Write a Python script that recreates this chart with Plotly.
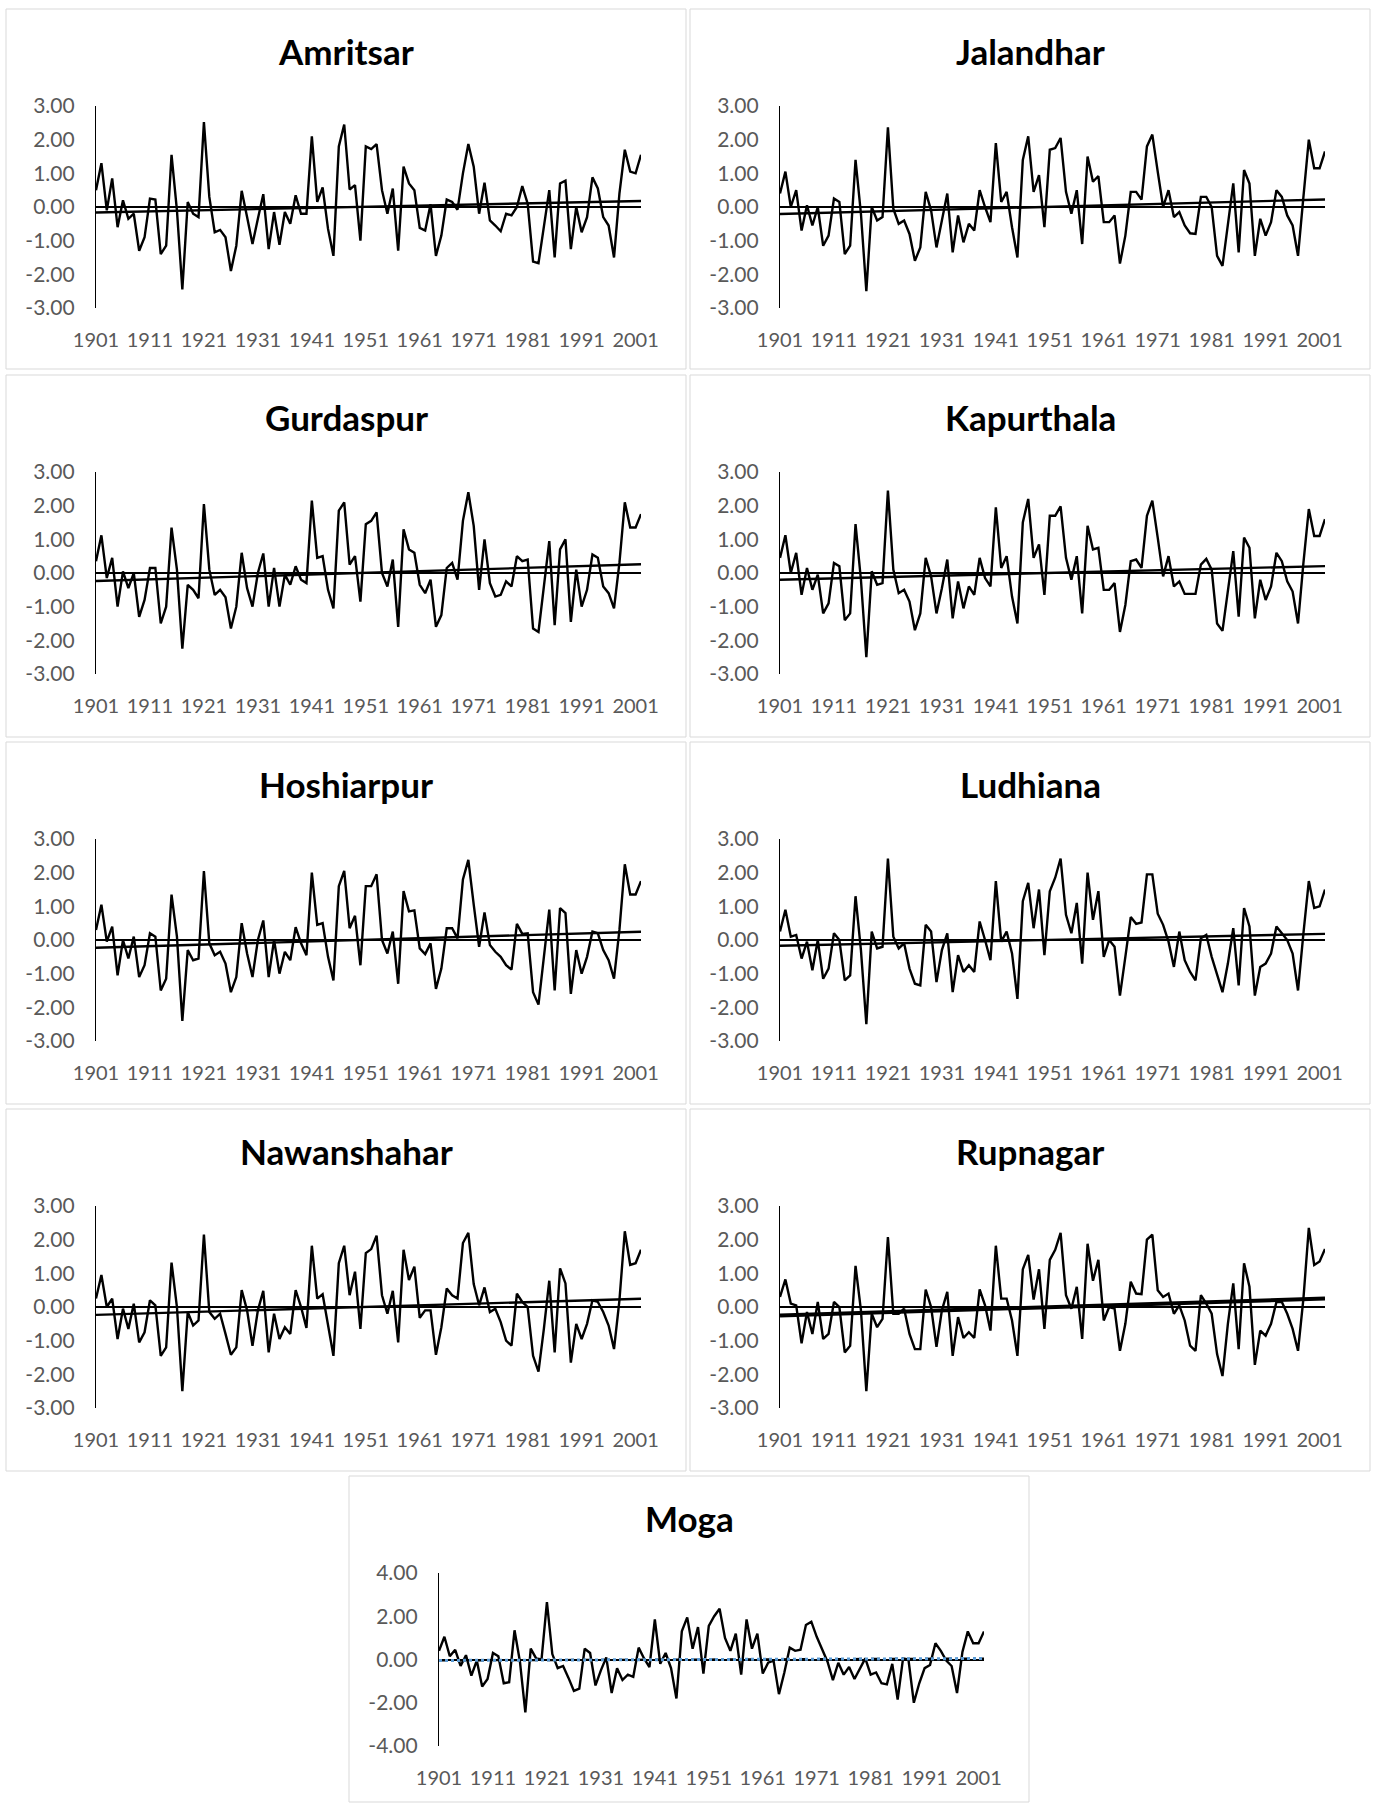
import numpy as np
import plotly.graph_objects as go

# ---- data -------------------------------------------------------------
years = list(range(1901, 2003))
year_ticks = [1901, 1911, 1921, 1931, 1941, 1951, 1961, 1971, 1981, 1991, 2001]
year_labels = ["1901", "1911", "1921", "1931", "1941", "1951", "1961", "1971", "1981", "1991", "2001"]

y_ticks_3 = [-3, -2, -1, 0, 1, 2, 3]
y_labels_3 = ["-3.00", "-2.00", "-1.00", "0.00", "1.00", "2.00", "3.00"]
y_ticks_4 = [-4, -2, 0, 2, 4]
y_labels_4 = ["-4.00", "-2.00", "0.00", "2.00", "4.00"]

amritsar = [0.5, 1.3, -0.1, 0.85, -0.6, 0.2, -0.35, -0.2, -1.3, -0.9,
            0.25, 0.22, -1.4, -1.15, 1.55, -0.1, -2.45, 0.15, -0.2, -0.3,
            2.52, 0.3, -0.75, -0.68, -0.9, -1.9, -1.15, 0.48, -0.3, -1.1,
            -0.35, 0.38, -1.25, -0.15, -1.12, -0.15, -0.5, 0.35, -0.2, -0.2,
            2.1, 0.15, 0.58, -0.65, -1.45, 1.8, 2.45, 0.52, 0.65, -1.0,
            1.8, 1.72, 1.87, 0.5, -0.2, 0.55, -1.3, 1.2, 0.7, 0.5,
            -0.62, -0.7, 0.08, -1.45, -0.85, 0.22, 0.15, -0.08, 1.0, 1.87,
            1.2, -0.2, 0.72, -0.4, -0.55, -0.72, -0.2, -0.25, 0.0, 0.62,
            0.1, -1.62, -1.67, -0.6, 0.5, -1.5, 0.7, 0.78, -1.25, 0.0,
            -0.75, -0.3, 0.88, 0.55, -0.3, -0.55, -1.5, 0.4, 1.7, 1.05,
            1.0, 1.55]

jalandhar = [0.4, 1.05, 0.0, 0.5, -0.7, 0.05, -0.55, 0.0, -1.15, -0.85,
             0.25, 0.15, -1.4, -1.15, 1.4, -0.2, -2.5, 0.0, -0.4, -0.3,
             2.37, -0.05, -0.5, -0.4, -0.8, -1.6, -1.2, 0.45, -0.1, -1.2,
             -0.4, 0.4, -1.35, -0.25, -1.05, -0.5, -0.7, 0.5, 0.0, -0.45,
             1.9, 0.15, 0.45, -0.6, -1.5, 1.4, 2.1, 0.45, 0.95, -0.6,
             1.7, 1.75, 2.05, 0.45, -0.2, 0.5, -1.1, 1.5, 0.75, 0.92,
             -0.45, -0.45, -0.25, -1.68, -0.85, 0.45, 0.45, 0.22, 1.8, 2.15,
             1.05, 0.0, 0.5, -0.3, -0.15, -0.55, -0.78, -0.8, 0.3, 0.3,
             0.0, -1.45, -1.75, -0.5, 0.7, -1.35, 1.1, 0.7, -1.45, -0.35,
             -0.85, -0.45, 0.5, 0.3, -0.25, -0.55, -1.45, 0.3, 2.0, 1.15,
             1.15, 1.65]

gurdaspur = [0.35, 1.12, -0.15, 0.45, -1.0, 0.05, -0.45, 0.0, -1.3, -0.8,
             0.15, 0.15, -1.5, -1.0, 1.35, 0.1, -2.25, -0.35, -0.5, -0.75,
             2.05, 0.1, -0.65, -0.5, -0.72, -1.65, -1.0, 0.6, -0.45, -1.0,
             0.0, 0.58, -1.0, 0.15, -1.0, -0.05, -0.35, 0.2, -0.2, -0.3,
             2.15, 0.45, 0.5, -0.5, -1.05, 1.85, 2.1, 0.25, 0.5, -0.85,
             1.45, 1.55, 1.8, 0.0, -0.4, 0.4, -1.6, 1.3, 0.7, 0.6,
             -0.35, -0.6, -0.2, -1.6, -1.25, 0.15, 0.3, -0.2, 1.55, 2.4,
             1.4, -0.5, 1.0, -0.3, -0.7, -0.65, -0.25, -0.4, 0.5, 0.35,
             0.4, -1.65, -1.75, -0.45, 0.95, -1.55, 0.7, 1.0, -1.45, 0.1,
             -1.0, -0.5, 0.55, 0.45, -0.4, -0.6, -1.05, 0.3, 2.1, 1.35,
             1.35, 1.75]

kapurthala = [0.45, 1.12, 0.0, 0.6, -0.65, 0.15, -0.5, -0.05, -1.2, -0.9,
              0.3, 0.2, -1.4, -1.2, 1.45, -0.2, -2.5, 0.05, -0.35, -0.3,
              2.45, 0.1, -0.6, -0.5, -0.85, -1.7, -1.2, 0.45, -0.1, -1.2,
              -0.45, 0.4, -1.35, -0.25, -1.05, -0.4, -0.65, 0.45, -0.15, -0.4,
              1.95, 0.15, 0.5, -0.7, -1.5, 1.5, 2.2, 0.45, 0.85, -0.65,
              1.7, 1.7, 1.98, 0.45, -0.2, 0.5, -1.2, 1.4, 0.7, 0.75,
              -0.5, -0.5, -0.3, -1.75, -0.95, 0.35, 0.4, 0.15, 1.7, 2.15,
              1.05, -0.1, 0.5, -0.4, -0.25, -0.62, -0.62, -0.62, 0.25, 0.42,
              0.1, -1.5, -1.72, -0.6, 0.65, -1.3, 1.05, 0.75, -1.35, -0.2,
              -0.8, -0.4, 0.6, 0.35, -0.25, -0.55, -1.5, 0.3, 1.9, 1.1,
              1.1, 1.6]

hoshiarpur = [0.3, 1.05, -0.05, 0.4, -1.05, 0.0, -0.55, 0.1, -1.1, -0.75,
              0.2, 0.1, -1.5, -1.15, 1.35, 0.1, -2.4, -0.3, -0.6, -0.55,
              2.05, -0.1, -0.45, -0.35, -0.7, -1.55, -1.1, 0.5, -0.4, -1.1,
              0.0, 0.58, -1.1, 0.0, -1.0, -0.35, -0.6, 0.38, -0.1, -0.45,
              2.0, 0.45, 0.5, -0.5, -1.2, 1.6, 2.05, 0.35, 0.72, -0.75,
              1.6, 1.6, 1.95, 0.0, -0.4, 0.25, -1.3, 1.45, 0.85, 0.88,
              -0.25, -0.42, -0.1, -1.45, -0.85, 0.35, 0.35, 0.05, 1.8, 2.38,
              1.05, -0.2, 0.82, -0.15, -0.35, -0.5, -0.75, -0.88, 0.48, 0.18,
              0.2, -1.55, -1.92, -0.45, 0.9, -1.5, 0.95, 0.8, -1.6, -0.3,
              -1.0, -0.5, 0.25, 0.2, -0.3, -0.6, -1.15, 0.3, 2.25, 1.35,
              1.35, 1.75]

ludhiana = [0.25, 0.9, 0.1, 0.15, -0.55, -0.05, -0.9, 0.0, -1.15, -0.85,
            0.2, 0.0, -1.2, -1.05, 1.3, -0.3, -2.5, 0.25, -0.25, -0.2,
            2.42, 0.1, -0.25, -0.1, -0.85, -1.3, -1.35, 0.45, 0.25, -1.25,
            -0.3, 0.2, -1.55, -0.45, -0.95, -0.75, -0.95, 0.55, 0.0, -0.6,
            1.75, -0.05, 0.25, -0.4, -1.75, 1.15, 1.7, 0.35, 1.5, -0.45,
            1.45, 1.85, 2.42, 0.75, 0.2, 1.1, -0.7, 2.0, 0.6, 1.45,
            -0.5, 0.0, -0.2, -1.65, -0.5, 0.68, 0.48, 0.52, 1.95, 1.95,
            0.78, 0.45, -0.05, -0.8, 0.25, -0.6, -0.95, -1.2, 0.05, 0.15,
            -0.5, -1.05, -1.55, -0.7, 0.35, -1.35, 0.95, 0.4, -1.65, -0.8,
            -0.7, -0.4, 0.4, 0.2, 0.0, -0.4, -1.5, 0.2, 1.75, 0.95,
            1.0, 1.5]

nawanshahar = [0.25, 0.95, 0.0, 0.25, -0.95, -0.05, -0.65, 0.1, -1.05, -0.75,
               0.2, 0.05, -1.45, -1.2, 1.32, 0.0, -2.5, -0.15, -0.55, -0.4,
               2.15, -0.15, -0.35, -0.2, -0.8, -1.42, -1.2, 0.5, -0.1, -1.15,
               -0.1, 0.48, -1.35, -0.2, -0.95, -0.6, -0.8, 0.5, 0.0, -0.62,
               1.82, 0.25, 0.38, -0.6, -1.45, 1.3, 1.82, 0.35, 1.05, -0.65,
               1.6, 1.72, 2.12, 0.35, -0.2, 0.48, -1.05, 1.7, 0.8, 1.2,
               -0.32, -0.1, -0.1, -1.42, -0.6, 0.55, 0.35, 0.25, 1.9, 2.2,
               0.68, 0.05, 0.58, -0.15, -0.05, -0.45, -1.0, -1.15, 0.4, 0.15,
               0.0, -1.45, -1.92, -0.65, 0.78, -1.35, 1.15, 0.7, -1.65, -0.5,
               -0.95, -0.5, 0.2, 0.15, -0.15, -0.55, -1.25, 0.2, 2.25, 1.25,
               1.3, 1.7]

rupnagar = [0.3, 0.82, 0.1, 0.05, -1.08, -0.15, -0.8, 0.15, -0.95, -0.8,
            0.15, 0.0, -1.35, -1.15, 1.22, -0.1, -2.5, -0.2, -0.6, -0.35,
            2.08, -0.2, -0.2, -0.05, -0.8, -1.25, -1.25, 0.52, 0.0, -1.18,
            -0.1, 0.45, -1.45, -0.3, -0.92, -0.75, -0.92, 0.52, 0.05, -0.7,
            1.82, 0.25, 0.25, -0.4, -1.45, 1.12, 1.55, 0.22, 1.12, -0.65,
            1.4, 1.7, 2.2, 0.35, -0.05, 0.6, -0.95, 1.88, 0.78, 1.4,
            -0.4, 0.0, -0.05, -1.3, -0.5, 0.75, 0.4, 0.38, 2.0, 2.15,
            0.5, 0.3, 0.4, -0.2, 0.05, -0.4, -1.15, -1.3, 0.35, 0.1,
            -0.2, -1.4, -2.05, -0.5, 0.7, -1.25, 1.3, 0.6, -1.72, -0.7,
            -0.85, -0.5, 0.15, 0.15, -0.2, -0.65, -1.3, 0.25, 2.35, 1.25,
            1.35, 1.72]

moga = [0.4, 1.05, 0.15, 0.45, -0.3, 0.2, -0.75, -0.05, -1.25, -0.9,
        0.3, 0.15, -1.1, -1.05, 1.35, -0.1, -2.45, 0.5, 0.05, 0.0,
        2.65, 0.25, -0.4, -0.3, -0.85, -1.45, -1.35, 0.5, 0.3, -1.2,
        -0.5, 0.1, -1.55, -0.4, -0.95, -0.7, -0.8, 0.55, 0.05, -0.35,
        1.85, -0.2, 0.3, -0.4, -1.8, 1.3, 1.95, 0.5, 1.5, -0.65,
        1.55, 2.0, 2.35, 1.0, 0.4, 1.2, -0.7, 1.85, 0.5, 1.2,
        -0.65, -0.15, -0.05, -1.6, -0.6, 0.55, 0.4, 0.45, 1.6, 1.75,
        1.05, 0.45, -0.1, -0.95, -0.15, -0.7, -0.35, -0.9, -0.4, 0.05,
        -0.7, -0.6, -1.1, -1.15, -0.2, -1.85, 0.05, 0.0, -2.0, -1.1,
        -0.4, -0.25, 0.75, 0.4, -0.05, -0.3, -1.55, 0.35, 1.3, 0.75,
        0.75, 1.3]

# ---- page geometry (pixels) ------------------------------------------
W, H = 1374, 1804
FONT = "Lato"
TICK_GREY = "#595959"
BORDER_GREY = "#D9D9D9"

# name, series, panel left, panel top, panel bottom, tall plot?
panels = [
    ("Amritsar", amritsar, 6, 9, 369, True),
    ("Jalandhar", jalandhar, 690, 9, 369, True),
    ("Gurdaspur", gurdaspur, 6, 375, 737, True),
    ("Kapurthala", kapurthala, 690, 375, 737, True),
    ("Hoshiarpur", hoshiarpur, 6, 742, 1104, True),
    ("Ludhiana", ludhiana, 690, 742, 1104, True),
    ("Nawanshahar", nawanshahar, 6, 1109, 1471, True),
    ("Rupnagar", rupnagar, 690, 1109, 1471, True),
    ("Moga", moga, 349, 1476, 1802, False),
]
PANEL_W = 680


def px_x(v):
    return v / W


def px_y(v):
    return 1 - v / H


fig = go.Figure()
shapes = []
annotations = []

for k, (name, vals, left, top, bottom, tall) in enumerate(panels):
    n = k + 1
    xa = "x" if n == 1 else f"x{n}"
    ya = "y" if n == 1 else f"y{n}"

    plot_left = left + 90
    plot_right = left + 635
    plot_top = top + 97
    plot_bottom = top + (299 if tall else 270)

    # annual series
    fig.add_trace(go.Scatter(
        x=years, y=vals, mode="lines", xaxis=xa, yaxis=ya,
        line=dict(color="black", width=2.4), showlegend=False, hoverinfo="skip",
    ))

    # linear trend
    slope, intercept = np.polyfit(years, vals, 1)
    tx = [years[0], years[-1]]
    ty = [slope * t + intercept for t in tx]
    if name == "Moga":
        fig.add_trace(go.Scatter(
            x=tx, y=ty, mode="lines", xaxis=xa, yaxis=ya,
            line=dict(color="black", width=2.2, dash="dash"),
            showlegend=False, hoverinfo="skip",
        ))
        fig.add_trace(go.Scatter(
            x=tx, y=ty, mode="lines", xaxis=xa, yaxis=ya,
            line=dict(color="#5B9BD5", width=3, dash="dot"),
            showlegend=False, hoverinfo="skip",
        ))
    else:
        fig.add_trace(go.Scatter(
            x=tx, y=ty, mode="lines", xaxis=xa, yaxis=ya,
            line=dict(color="black", width=4 if name == "Rupnagar" else 2.4),
            showlegend=False, hoverinfo="skip",
        ))

    if tall:
        yr, yt, yl = [-3, 3], y_ticks_3, y_labels_3
    else:
        yr, yt, yl = [-4, 4], y_ticks_4, y_labels_4

    fig.layout[f"xaxis{n}"] = dict(
        domain=[px_x(plot_left), px_x(plot_right)],
        anchor=ya, range=[years[0], years[-1]],
        tickmode="array", tickvals=year_ticks, ticktext=year_labels,
        showline=False, showgrid=False, zeroline=False, ticks="",
        ticklabelstandoff=18, automargin=False,
        tickfont=dict(family=FONT, size=20, color=TICK_GREY),
        fixedrange=True,
    )
    fig.layout[f"yaxis{n}"] = dict(
        domain=[px_y(plot_bottom), px_y(plot_top)],
        anchor=xa, range=yr,
        tickmode="array", tickvals=yt, ticktext=yl,
        showline=True, linecolor="black", linewidth=1.3,
        showgrid=False, zeroline=True, zerolinecolor="black", zerolinewidth=1.6,
        ticks="", ticklabelstandoff=16, automargin=False,
        tickfont=dict(family=FONT, size=21, color=TICK_GREY),
        fixedrange=True,
    )

    shapes.append(dict(
        type="rect", xref="paper", yref="paper", layer="below",
        x0=px_x(left), x1=px_x(left + PANEL_W),
        y0=px_y(bottom), y1=px_y(top),
        line=dict(color=BORDER_GREY, width=1), fillcolor="white",
    ))
    annotations.append(dict(
        text=f"<b>{name}</b>", xref="paper", yref="paper",
        x=px_x(left + PANEL_W / 2), y=px_y(top + 42),
        xanchor="center", yanchor="middle", showarrow=False,
        font=dict(family=FONT, size=35, color="black"),
    ))

fig.update_layout(
    template="none",
    width=W, height=H,
    margin=dict(l=0, r=0, t=0, b=0, pad=0, autoexpand=False),
    paper_bgcolor="white", plot_bgcolor="rgba(0,0,0,0)",
    shapes=shapes, annotations=annotations,
    showlegend=False,
)

fig.write_html("out.html")
